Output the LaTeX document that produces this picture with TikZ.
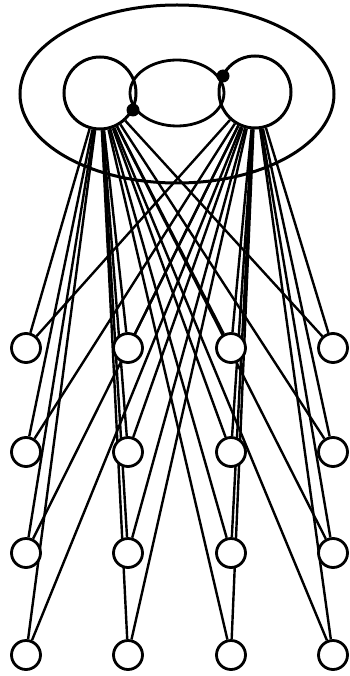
\documentclass[tikz,border=0pt]{standalone}
\usetikzlibrary{backgrounds}
\begin{document}
\begin{tikzpicture}[
    x=1pt, y=-1pt,
    hub/.style={circle, draw, line width=3pt, minimum size=72pt, inner sep=0pt},
    leaf/.style={circle, draw, line width=2.8pt, fill=white, minimum size=29pt, inner sep=0pt},
    joint/.style={circle, fill, inner sep=0pt, minimum size=13pt},
    link/.style={draw, line width=2.4pt}
]
\useasboundingbox (0,0) rectangle (349,676);

% outer ring and the middle loop
\draw[line width=3pt] (177,94) ellipse [x radius=157, y radius=89];
\draw[line width=2.8pt] (177,93) ellipse [x radius=47, y radius=33];

\node[hub] (lhub) at (100,93) {};
\node[hub] (rhub) at (255,92) {};
\node[joint] (ljoint) at (133,110) {};
\node[joint] (rjoint) at (223,76) {};

% the four rows of small circles
\foreach \r/\y in {1/348,2/452,3/553,4/655}
    \foreach \c/\x in {1/26,2/128,3/231,4/333}
        \node[leaf] (s\r\c) at (\x,\y) {};

% every small circle hangs from both big ones
\begin{scope}[on background layer]
\foreach \r in {1,...,4}
    \foreach \c in {1,...,4} {
        \draw[link] (lhub) -- (s\r\c);
        \draw[link] (rhub) -- (s\r\c);
    }
\end{scope}

\end{tikzpicture}
\end{document}
